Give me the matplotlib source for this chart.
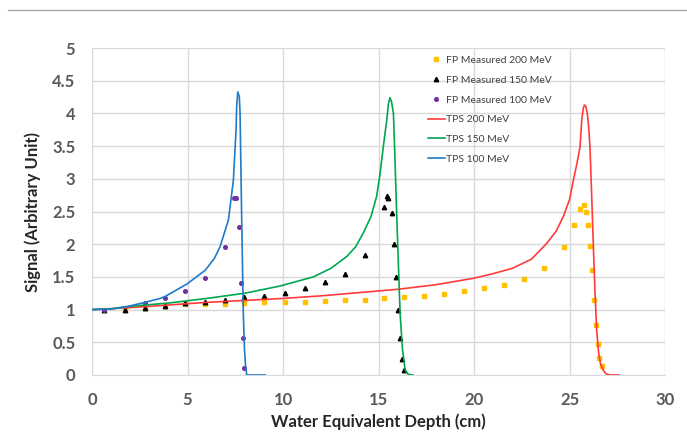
import matplotlib.pyplot as plt
from matplotlib.lines import Line2D

plt.rcParams['font.family'] = ['Lato', 'DejaVu Sans']

# measured points
fp200_x = [0.65, 1.73, 2.77, 3.82, 4.87, 5.92, 6.96, 7.96, 9.0, 10.09, 11.14, 12.18, 13.23, 14.28,
           15.31, 16.35, 17.4, 18.45, 19.5, 20.52, 21.59, 22.62, 23.68, 24.73, 25.24, 25.55, 25.78,
           25.86, 25.95, 26.07, 26.18, 26.3, 26.39, 26.48, 26.56, 26.68]
fp200_y = [1.0, 1.0, 1.02, 1.05, 1.08, 1.09, 1.09, 1.10, 1.11, 1.11, 1.12, 1.13, 1.14, 1.15,
           1.17, 1.19, 1.21, 1.24, 1.28, 1.33, 1.38, 1.47, 1.64, 1.96, 2.30, 2.54, 2.60,
           2.49, 2.30, 1.98, 1.61, 1.14, 0.76, 0.47, 0.26, 0.13]

fp150_x = [0.65, 1.73, 2.77, 3.82, 4.87, 5.92, 6.96, 7.96, 9.0, 10.09, 11.14, 12.18, 13.23, 14.28,
           15.31, 15.42, 15.5, 15.72, 15.83, 15.93, 16.04, 16.14, 16.25, 16.35]
fp150_y = [1.0, 1.0, 1.03, 1.06, 1.10, 1.12, 1.14, 1.19, 1.21, 1.26, 1.33, 1.42, 1.55, 1.83,
           2.57, 2.74, 2.70, 2.47, 2.01, 1.50, 0.99, 0.56, 0.24, 0.08]

fp100_x = [0.65, 2.77, 3.82, 4.87, 5.92, 6.96, 7.45, 7.55, 7.68, 7.8, 7.89, 7.96]
fp100_y = [0.99, 1.10, 1.17, 1.29, 1.48, 1.96, 2.71, 2.71, 2.26, 1.40, 0.57, 0.11]

# TPS curves
tps200_x = [0, 2, 4, 6, 8, 10, 12, 14, 16, 18, 20, 21, 22, 23, 23.8, 24.3, 24.67, 25.0, 25.2,
            25.4, 25.55, 25.64, 25.72, 25.78, 25.85, 25.93, 26.0, 26.07, 26.16, 26.25, 26.33,
            26.42, 26.52, 26.62, 26.77, 26.9, 27.1, 27.6]
tps200_y = [1.0, 1.03, 1.07, 1.11, 1.14, 1.17, 1.21, 1.26, 1.31, 1.38, 1.48, 1.55, 1.63, 1.77,
            2.01, 2.2, 2.42, 2.68, 2.98, 3.25, 3.49, 3.9, 4.08, 4.13, 4.11, 4.0, 3.8, 3.49, 2.75,
            1.96, 1.3, 0.69, 0.35, 0.17, 0.07, 0.02, 0.0, 0.0]

tps150_x = [0, 1, 2, 4, 6, 8, 9.84, 11.59, 12.5, 13.33, 13.8, 14.2, 14.6, 14.9, 15.08, 15.25,
            15.43, 15.52, 15.6, 15.68, 15.78, 15.86, 15.95, 16.05, 16.13, 16.25, 16.39, 16.55, 16.8]
tps150_y = [1.0, 1.01, 1.05, 1.10, 1.17, 1.25, 1.36, 1.50, 1.63, 1.81, 1.96, 2.17, 2.42, 2.73,
            3.08, 3.49, 3.9, 4.15, 4.24, 4.18, 4.0, 3.3, 2.47, 1.6, 0.94, 0.4, 0.08, 0.01, 0.0]

tps100_x = [0, 1, 1.9, 2.77, 3.56, 3.82, 4.96, 5.92, 6.4, 6.7, 7.14, 7.4, 7.54, 7.57, 7.63,
            7.71, 7.75, 7.83, 7.92, 7.98, 8.04, 8.1, 9.06]
tps100_y = [1.0, 1.01, 1.05, 1.11, 1.17, 1.2, 1.39, 1.6, 1.78, 1.96, 2.37, 2.98, 3.75, 4.1, 4.33,
            4.26, 4.0, 2.47, 0.94, 0.4, 0.13, 0.0, 0.0]

fig = plt.figure(figsize=(6.87, 4.37), dpi=100)
ax = fig.add_axes([0.134, 0.142, 0.834, 0.748])

ax.plot(fp200_x, fp200_y, ls='none', marker='s', ms=2.3, color='#FFC000', label='FP Measured 200 MeV')
ax.plot(fp150_x, fp150_y, ls='none', marker='^', ms=3.2, color='black', label='FP Measured 150 MeV')
ax.plot(fp100_x, fp100_y, ls='none', marker='o', ms=2.6, color='#7030A0', label='FP Measured 100 MeV')
ax.plot(tps200_x, tps200_y, color='#FF3B3B', lw=1.2, label='TPS 200 MeV')
ax.plot(tps150_x, tps150_y, color='#00A650', lw=1.2, label='TPS 150 MeV')
ax.plot(tps100_x, tps100_y, color='#1F7BC8', lw=1.2, label='TPS 100 MeV')

ax.set_xlim(0, 30)
ax.set_ylim(0, 5)
ax.set_xticks(range(0, 31, 5))
ax.set_yticks([i * 0.5 for i in range(11)])
ax.set_yticklabels(['0', '0.5', '1', '1.5', '2', '2.5', '3', '3.5', '4', '4.5', '5'])
ax.grid(True, color='#d9d9d9', lw=1)
ax.set_axisbelow(True)
for s in ['top', 'right', 'left']:
    ax.spines[s].set_visible(False)
ax.spines['bottom'].set_color('#d9d9d9')
ax.tick_params(length=0, labelsize=12, colors='#595959', pad=12)
for lab in ax.get_xticklabels() + ax.get_yticklabels():
    lab.set_fontweight('bold')

ax.set_xlabel('Water Equivalent Depth (cm)', fontsize=12, fontweight='bold', color='#262626', labelpad=4)
ax.set_ylabel('Signal (Arbitrary Unit)', fontsize=12, fontweight='bold', color='#262626', labelpad=8)

ax.legend(loc='upper left', bbox_to_anchor=(0.57, 1.005), frameon=False, fontsize=7.5,
          numpoints=1, handlelength=1.6, handletextpad=0.1, labelspacing=1.0, labelcolor='#404040')

fig.add_artist(Line2D([0.011, 1.0], [0.977, 0.977], color='#a6a6a6', lw=1))

plt.savefig('out.png', dpi=100)
